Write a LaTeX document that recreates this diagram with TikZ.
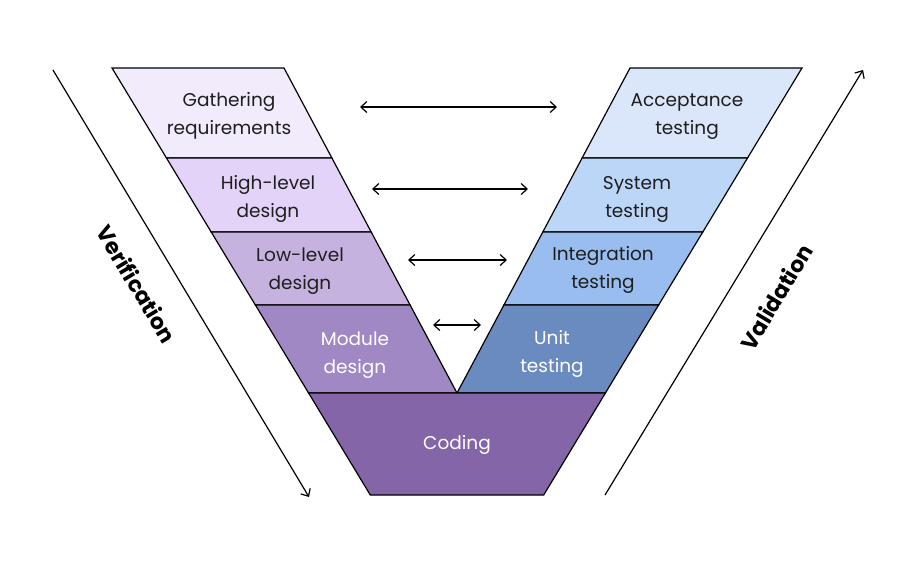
\documentclass[tikz,border=0pt]{standalone}
\usepackage{fontspec}
\setmainfont{Poppins}
\usetikzlibrary{arrows.meta}
\definecolor{cGath}{RGB}{241,235,252}
\definecolor{cHigh}{RGB}{227,211,248}
\definecolor{cLow}{RGB}{198,178,222}
\definecolor{cMod}{RGB}{160,136,196}
\definecolor{cCode}{RGB}{132,102,168}
\definecolor{cAcc}{RGB}{218,231,251}
\definecolor{cSys}{RGB}{188,214,247}
\definecolor{cInt}{RGB}{152,189,238}
\definecolor{cUnit}{RGB}{106,139,192}
\definecolor{txt}{RGB}{30,30,30}
\tikzset{
  band/.style={draw=black, line width=1.2pt, line join=miter},
  lbl/.style={align=center, font=\fontsize{18.5}{28}\selectfont, text=txt, inner sep=0pt},
  wlbl/.style={lbl, text=white},
  dbl/.style={{Straight Barb[length=6pt,width=11pt]}-{Straight Barb[length=6pt,width=11pt]}, line width=1.2pt},
  sgl/.style={-{Straight Barb[length=6pt,width=11pt]}, line width=1.2pt},
  side/.style={font=\fontsize{22}{26}\selectfont\bfseries, inner sep=0pt}
}
\begin{document}
\begin{tikzpicture}[x=1pt,y=-1pt]
\useasboundingbox (0,0) rectangle (920,566);
% left arm
\filldraw[band, fill=cGath] (112,68) -- (284,68) -- (331.9,158) -- (166.5,158) -- cycle;
\filldraw[band, fill=cHigh] (166.5,158) -- (331.9,158) -- (371.2,232) -- (211.2,232) -- cycle;
\filldraw[band, fill=cLow] (211.2,232) -- (371.2,232) -- (410.1,305) -- (255.4,305) -- cycle;
\filldraw[band, fill=cMod] (255.4,305) -- (410.1,305) -- (457,393) -- (308.6,393) -- cycle;
% right arm
\filldraw[band, fill=cAcc] (630,68) -- (802,68) -- (747.5,158) -- (582.1,158) -- cycle;
\filldraw[band, fill=cSys] (582.1,158) -- (747.5,158) -- (702.8,232) -- (542.8,232) -- cycle;
\filldraw[band, fill=cInt] (542.8,232) -- (702.8,232) -- (658.6,305) -- (503.9,305) -- cycle;
\filldraw[band, fill=cUnit] (503.9,305) -- (658.6,305) -- (605.4,393) -- (457,393) -- cycle;
% coding
\filldraw[band, fill=cCode] (308.6,393) -- (605.4,393) -- (543.7,495) -- (370.3,495) -- cycle;
% labels
\node[lbl] (gath) at (229,116) {Gathering\\requirements};
\node[lbl] (high) at (268,199) {High-level\\design};
\node[lbl] (low) at (300,271) {Low-level\\design};
\node[wlbl] (mod) at (355,355) {Module\\design};
\node[wlbl] (code) at (457,445) {Coding};
\node[lbl] (acc) at (687,117) {Acceptance\\testing};
\node[lbl] (sys) at (637,199) {System\\testing};
\node[lbl] (int) at (603,270) {Integration\\testing};
\node[wlbl] (unit) at (552,354) {Unit\\testing};
% horizontal links
\coordinate (a1l) at (360,107); \coordinate (a1r) at (557,107);
\coordinate (a2l) at (372,189); \coordinate (a2r) at (528,189);
\coordinate (a3l) at (408,260); \coordinate (a3r) at (507,260);
\coordinate (a4l) at (433,325); \coordinate (a4r) at (481,325);
\draw[dbl] (a1l) -- (a1r);
\draw[dbl] (a2l) -- (a2r);
\draw[dbl] (a3l) -- (a3r);
\draw[dbl] (a4l) -- (a4r);
% side arrows
\coordinate (vs) at (53,70); \coordinate (ve) at (309,497);
\coordinate (ws) at (605,495); \coordinate (we) at (863,70);
\draw[sgl] (vs) -- (ve);
\draw[sgl] (ws) -- (we);
\node[side, rotate=-59] (verif) at (137,284) {Verification};
\node[side, rotate=59] (valid) at (776,297) {Validation};
\end{tikzpicture}
\end{document}
